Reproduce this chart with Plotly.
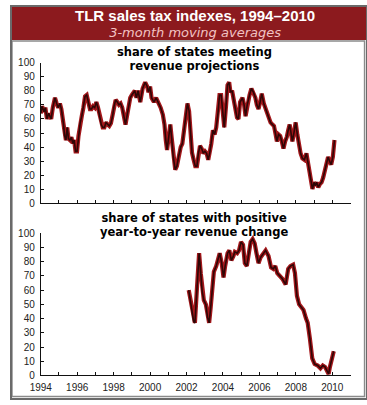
import plotly.graph_objects as go

# ---- data ----
top_years = [1994.00, 1994.07, 1994.18, 1994.25, 1994.34, 1994.43, 1994.50, 1994.57, 1994.66, 1994.78,
             1994.87, 1994.96, 1995.05, 1995.13, 1995.24, 1995.31, 1995.38, 1995.45, 1995.52, 1995.60,
             1995.68, 1995.76, 1995.83, 1995.91, 1995.99, 1996.07, 1996.16, 1996.25, 1996.34, 1996.43,
             1996.52, 1996.61, 1996.70, 1996.78, 1996.87, 1996.96, 1997.05, 1997.14, 1997.23, 1997.32,
             1997.40, 1997.49, 1997.58, 1997.67, 1997.76, 1997.85, 1997.94, 1998.02, 1998.11, 1998.20,
             1998.29, 1998.38, 1998.47, 1998.56, 1998.65, 1998.73, 1998.82, 1998.91, 1999.00, 1999.09,
             1999.16, 1999.25, 1999.34, 1999.46, 1999.59, 1999.73, 1999.84, 1999.91, 2000.00, 2000.08,
             2000.21, 2000.33, 2000.44, 2000.58, 2000.70, 2000.79, 2000.86, 2000.93, 2001.02, 2001.11,
             2001.18, 2001.27, 2001.38, 2001.47, 2001.56, 2001.68, 2001.77, 2001.86, 2001.96, 2002.05,
             2002.14, 2002.21, 2002.30, 2002.39, 2002.48, 2002.57, 2002.65, 2002.74, 2002.83, 2002.92,
             2003.01, 2003.10, 2003.19, 2003.27, 2003.36, 2003.45, 2003.54, 2003.63, 2003.72, 2003.81,
             2003.90, 2003.98, 2004.07, 2004.16, 2004.25, 2004.34, 2004.41, 2004.50, 2004.57, 2004.68,
             2004.77, 2004.85, 2004.94, 2005.07, 2005.16, 2005.24, 2005.33, 2005.46, 2005.56, 2005.67,
             2005.78, 2005.86, 2005.95, 2006.04, 2006.13, 2006.24, 2006.33, 2006.43, 2006.52, 2006.61,
             2006.72, 2006.80, 2006.89, 2006.96, 2007.05, 2007.14, 2007.23, 2007.32, 2007.41, 2007.50,
             2007.58, 2007.66, 2007.73, 2007.81, 2007.90, 2007.99, 2008.08, 2008.17, 2008.26, 2008.36,
             2008.47, 2008.58, 2008.67, 2008.75, 2008.84, 2008.91, 2009.00, 2009.07, 2009.14, 2009.23,
             2009.32, 2009.41, 2009.50, 2009.59, 2009.68, 2009.77, 2009.85, 2009.94, 2010.03, 2010.12]
top_values = [64, 69, 65, 68, 60, 64, 62, 60, 68, 75,
              71, 68, 71, 67, 57, 48, 45, 54, 46, 45,
              47, 42.5, 45, 37, 37, 48, 57, 62, 68, 76,
              77, 71, 67, 67, 69, 68, 72, 68, 63, 56,
              54, 54, 57.5, 56, 55, 57, 62, 69, 73.5, 72,
              70, 71, 68, 62, 56, 62, 70, 75, 77, 79,
              80, 75, 80, 72, 81.6, 86, 83, 79, 83, 75,
              72, 75, 72, 68, 63, 56, 45, 38, 47, 56,
              47, 33, 24, 26.5, 33, 40, 42.5, 52, 63, 71,
              65.5, 49, 36, 31, 26.5, 26.5, 35.6, 41, 39, 35.6,
              37, 35.6, 31, 35.6, 42.5, 52, 49, 54, 63, 77,
              77, 65.5, 54, 68, 84, 86, 79, 80, 75, 70,
              61, 60, 72, 75, 70, 62, 70, 77, 81.6, 79,
              75, 70, 67, 72, 78, 71, 68, 64, 61, 57.5,
              56, 55, 49, 44, 49, 48, 44, 39, 44, 47,
              52, 56, 50.5, 44, 50.5, 57.5, 49, 41, 35.6, 32,
              31, 35.6, 28.7, 20.7, 13.8, 10.3, 15, 12.6, 15, 11.5,
              13.8, 15, 18.4, 23, 28.7, 33, 30, 27.6, 33, 45]

bottom_years = [2002.12, 2002.21, 2002.30, 2002.39, 2002.46, 2002.56, 2002.69, 2002.78, 2002.86, 2002.95,
                2003.06, 2003.15, 2003.24, 2003.32, 2003.41, 2003.50, 2003.63, 2003.71, 2003.82, 2003.93,
                2004.03, 2004.12, 2004.25, 2004.35, 2004.46, 2004.57, 2004.65, 2004.78, 2004.88, 2004.99,
                2005.10, 2005.20, 2005.31, 2005.42, 2005.52, 2005.63, 2005.74, 2005.84, 2005.95, 2006.06,
                2006.20, 2006.34, 2006.50, 2006.64, 2006.76, 2006.87, 2006.98, 2007.12, 2007.26, 2007.44,
                2007.58, 2007.70, 2007.85, 2007.95, 2008.06, 2008.18, 2008.30, 2008.42, 2008.56, 2008.65,
                2008.77, 2008.90, 2009.03, 2009.20, 2009.35, 2009.48, 2009.60, 2009.72, 2009.80, 2009.87,
                2009.96, 2010.08]
bottom_values = [60, 53, 45, 38, 37, 59, 86, 72, 59, 53,
                 50, 41, 37, 47, 63, 73, 77, 81, 86, 79,
                 69, 77, 86, 88, 81, 84, 87, 86, 88, 94,
                 92, 79, 77, 86, 94, 96, 93, 86, 79, 83,
                 86, 88, 84, 76, 75, 77, 72, 70, 68, 64,
                 75, 77, 78, 72, 56, 50, 48, 46, 40, 37,
                 26, 12, 8, 7, 5, 7, 6, 3, 1, 6,
                 11, 17]

x_tick_years = [1994, 1996, 1998, 2000, 2002, 2004, 2006, 2008, 2010]
x_tick_labels = ["1994", "1996", "1998", "2000", "2002", "2004", "2006", "2008", "2010"]
x_minor_years = [1995, 1997, 1999, 2001, 2003, 2005, 2007, 2009, 2011]
y_tick_values = [0, 10, 20, 30, 40, 50, 60, 70, 80, 90, 100]

title = "TLR sales tax indexes, 1994\u20132010"
subtitle = "3-month moving averages"
top_title = ["share of states meeting", "revenue projections"]
bottom_title = ["share of states with positive", "year-to-year revenue change"]

# ---- figure ----
W, H = 367, 405
RED = "#a3171b"
CORE = "#2e0606"
HEADER = "#8c1a1e"
FONT = "Liberation Sans, Arial, sans-serif"
HEAVY = "DejaVu Sans, Liberation Sans, sans-serif"

def py(p):
    return 1 - p / H

fig = go.Figure()
for xs, ys, ax in [(top_years, top_values, ("x", "y")), (bottom_years, bottom_values, ("x2", "y2"))]:
    fig.add_trace(go.Scatter(x=xs, y=ys, mode="lines", xaxis=ax[0], yaxis=ax[1],
                             line=dict(color=RED, width=4.2), hoverinfo="skip", showlegend=False))
    fig.add_trace(go.Scatter(x=xs, y=ys, mode="lines", xaxis=ax[0], yaxis=ax[1],
                             line=dict(color=CORE, width=1.6), showlegend=False))

xdom = [30.7 / W, 350 / W]
common_x = dict(range=[1994, 2011], domain=xdom, showline=True, linecolor="#111", linewidth=1,
                showgrid=False, zeroline=False, ticks="inside", ticklen=3, tickcolor="#111",
                tickvals=x_tick_years, ticktext=x_tick_labels,
                minor=dict(tickvals=x_minor_years, ticks="inside", ticklen=3, tickcolor="#111"),
                tickfont=dict(family=FONT, size=10, color="#222"), fixedrange=True)
common_y = dict(range=[0, 100], showline=True, linecolor="#111", linewidth=1, showgrid=False,
                zeroline=False, ticks="inside", ticklen=3, tickcolor="#111",
                tickvals=y_tick_values, tickfont=dict(family=FONT, size=10, color="#222"),
                ticklabelstandoff=3, fixedrange=True)

fig.update_layout(
    width=W, height=H, margin=dict(l=0, r=0, t=0, b=0),
    paper_bgcolor="white", plot_bgcolor="white", showlegend=False,
    xaxis=dict(common_x, anchor="y", showticklabels=False),
    yaxis=dict(common_y, anchor="x", domain=[py(203.5), py(58.3)]),
    xaxis2=dict(common_x, anchor="y2", showticklabels=True, ticklabelstandoff=3),
    yaxis2=dict(common_y, anchor="x2", domain=[py(380.7), py(234.3)]),
    shapes=[
        dict(type="rect", xref="paper", yref="paper", x0=0, x1=1, y0=py(35), y1=1,
             fillcolor=HEADER, line=dict(width=0), layer="below"),
        dict(type="rect", xref="paper", yref="paper", x0=1 / W, x1=1 - 2.5 / W, y0=2.5 / H, y1=py(36),
             fillcolor="rgba(0,0,0,0)", line=dict(color="#8a8a8a", width=1.5)),
        dict(type="rect", xref="paper", yref="paper", x0=0, x1=1, y0=0, y1=1,
             fillcolor="rgba(0,0,0,0)", line=dict(color="#6a6a6a", width=2)),
    ],
)

# multi-line blocks: the base font size sets the line spacing, spans set the glyph size
header_text = ("<span style='font-family:Liberation Sans;font-size:15px'><b>" + title + "</b></span><br>"
               "<span style='font-size:13px;color:#f2c2c2'><i>" + subtitle + "</i></span>")
top_text = ("<span style='font-size:11.5px'><b>" + top_title[0] + "</b></span><br>"
            "<span style='font-size:11.5px'><b>" + top_title[1] + "</b></span>")
bottom_text = ("<span style='font-size:11.5px'><b>" + bottom_title[0] + "</b></span><br>"
               "<span style='font-size:11.5px'><b>" + bottom_title[1] + "</b></span>")

ann = [
    dict(text=header_text, x=190 / W, y=py(18.5), font=dict(family=HEAVY, size=12.4, color="white")),
    dict(text=top_text, x=189 / W, y=py(55), font=dict(family=HEAVY, size=10.6, color="black")),
    dict(text=bottom_text, x=189 / W, y=py(225.5), font=dict(family=HEAVY, size=10.6, color="black")),
]
for a in ann:
    a.update(xref="paper", yref="paper", xanchor="center", yanchor="middle", showarrow=False)
fig.update_layout(annotations=ann)

fig.write_html("out.html", config={"displayModeBar": False},
               post_script="document.body.style.margin='0';document.body.style.overflow='hidden';"
                           "document.documentElement.style.overflow='hidden';")
